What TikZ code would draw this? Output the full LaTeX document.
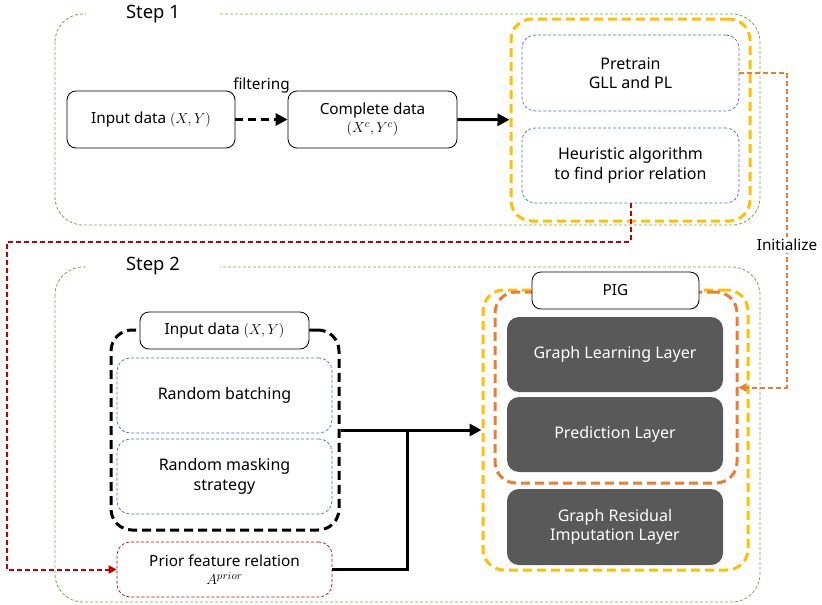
\documentclass[tikz,border=0pt]{standalone}
\usepackage{amsmath}
\usepackage{fontspec}
\setmainfont{Noto Sans}
\usetikzlibrary{arrows.meta,positioning}
\definecolor{stepgreen}{HTML}{70AD47}
\definecolor{boxblue}{HTML}{4472C4}
\definecolor{pigyellow}{HTML}{FFC000}
\definecolor{initorange}{HTML}{ED7D31}
\definecolor{priorred}{HTML}{C00000}
\definecolor{layergray}{HTML}{595959}

\begin{document}
\begin{tikzpicture}[x=1pt, y=-1pt, >=Triangle,
    every node/.style={font=\fontsize{15.3}{18}\selectfont, align=center, inner sep=0pt},
    stepframe/.style={draw=stepgreen, line width=0.8pt, dash pattern=on 3pt off 2pt, rounded corners=28pt},
    steptitle/.style={fill=white, minimum width=134pt, minimum height=14pt, font=\fontsize{18.4}{21}\selectfont\bfseries},
    databox/.style={draw, line width=0.8pt, fill=white, rounded corners=9pt},
    subbox/.style={draw=#1, line width=0.7pt, dash pattern=on 3pt off 2pt, rounded corners=13pt},
    bigtext/.style={font=\fontsize{16}{19.5}\selectfont},
    layerbox/.style={fill=layergray, text=white, rounded corners=12pt, minimum width=216pt, bigtext},
    groupbox/.style={draw=#1, line width=3pt, dash pattern=on 9pt off 5pt, rounded corners=21pt},
    flow/.style={line width=3pt, -{Triangle[length=12pt,width=12pt]}},
    link/.style={line width=2pt, dash pattern=on 5pt off 3pt, -{Triangle[length=8pt,width=8pt]}}]
    \useasboundingbox (0,0) rectangle (822,605);

    \draw[stepframe] (55,14) rectangle (760,225);
    \node[steptitle] (step1) at (153,14) {Step 1};
    \draw[stepframe] (55,267) rectangle (760,602);
    \node[steptitle] (step2) at (153,266) {Step 2};

    \node[databox, minimum width=168pt, minimum height=57pt] (input1) at (151,119.5) {Input data $(X,Y)$};
    \node[databox, minimum width=169pt, minimum height=57pt] (complete) at (372.5,119.5) {Complete data\\$(X^c,Y^c)$};
    \node[groupbox=pigyellow, minimum width=239pt, minimum height=202pt] (pregroup) at (630.5,120) {};
    \node[subbox=boxblue, bigtext, minimum width=217pt, minimum height=76pt] (pretrain) at (630.5,73) {Pretrain\\GLL and PL};
    \node[subbox=boxblue, bigtext, minimum width=217pt, minimum height=75pt] (heuristic) at (630.5,165.5) {Heuristic algorithm\\to find prior relation};

    \draw[flow, dash pattern=on 8pt off 5pt] (input1) -- (complete)
        node[midway, above=25pt] {filtering};
    \draw[flow] (complete) -- (pregroup);

    \node[groupbox=black, minimum width=228pt, minimum height=200pt] (batchgroup) at (225,430) {};
    \node[databox, minimum width=169pt, minimum height=37pt] (input2) at (224.5,330.5) {Input data $(X,Y)$};
    \node[subbox=boxblue, bigtext, minimum width=215pt, minimum height=75pt] (batching) at (224.5,395.5) {Random batching};
    \node[subbox=boxblue, bigtext, minimum width=215pt, minimum height=75pt] (masking) at (224.5,476.5) {Random masking\\strategy};
    \node[subbox=priorred, minimum width=215pt, minimum height=55pt] (prior) at (224.5,569.5) {Prior feature relation\\$A^{prior}$};

    \node[groupbox=pigyellow, minimum width=265pt, minimum height=280pt] (piggroup) at (615.5,430) {};
    \node[groupbox=initorange, minimum width=242pt, minimum height=191pt] (initgroup) at (616,387.5) {};
    \node[databox, minimum width=167pt, minimum height=37pt] (pig) at (615.5,290.5) {PIG};
    \node[layerbox, minimum height=75pt] (gll) at (615,354.5) {Graph Learning Layer};
    \node[layerbox, minimum height=75pt] (pred) at (615,434.5) {Prediction Layer};
    \node[layerbox, minimum height=76pt] (gril) at (615,527) {Graph Residual\\Imputation Layer};

    \coordinate (join) at (407,430);
    \draw[flow] (batchgroup.east) -- (piggroup.west);
    \draw[flow, -] (prior.east) -| (join);

    \coordinate (initbend) at (787,245);
    \draw[link, initorange] (pretrain.east) -| (initbend) |- (initgroup.east);
    \node[fill=white, inner sep=2pt] (initlabel) at (initbend) {Initialize};

    \coordinate (redleft) at (7,242);
    \draw[link, priorred] (heuristic.south) |- (redleft) |- (prior.west);
\end{tikzpicture}
\end{document}
